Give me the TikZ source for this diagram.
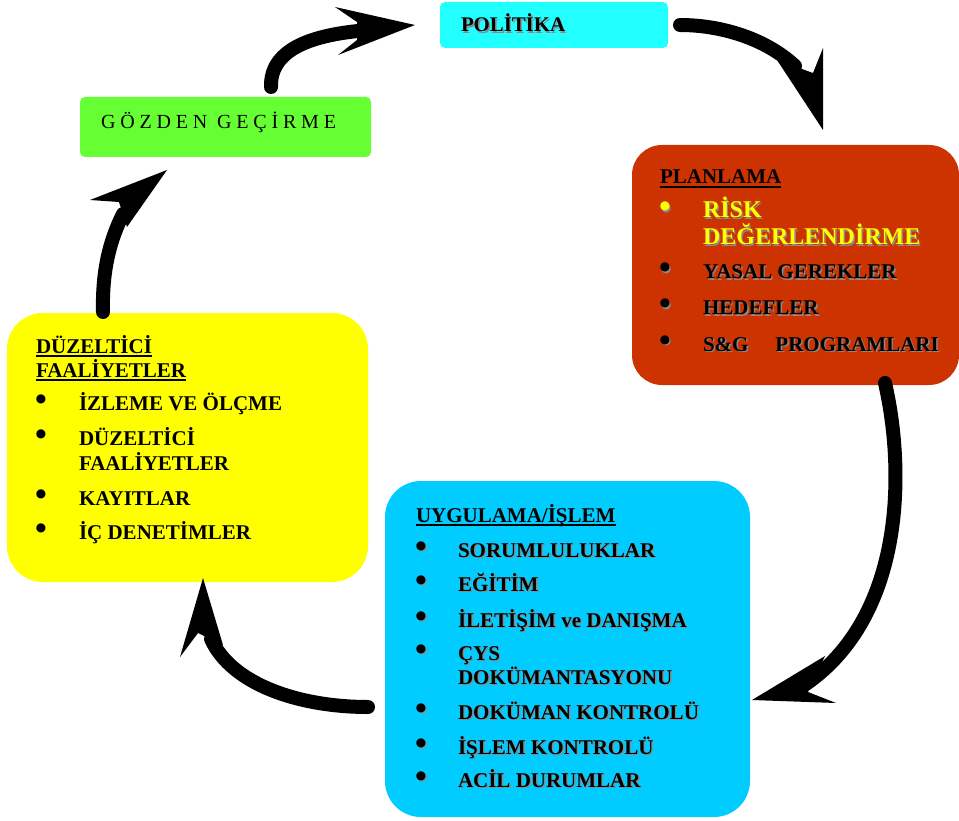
\documentclass[tikz,border=0pt]{standalone}
\usepackage{fontspec}
\usepackage{graphicx}
\setmainfont{Liberation Serif}
\newfontfamily\spacedfont{Liberation Serif}[LetterSpace=24]
\definecolor{planc}{HTML}{CC3300}
\definecolor{uygc}{HTML}{00CCFF}
\definecolor{duzc}{HTML}{FFFF00}
\definecolor{gozc}{HTML}{66FF33}
\definecolor{polc}{HTML}{22FFFF}
\definecolor{shadowgray}{HTML}{8A8A8A}
\newcommand\shd[1]{\leavevmode\rlap{\kern1.4pt\raisebox{-1.4pt}{\textcolor{shadowgray}{#1}}}#1}
\newcommand\bigbul{\scalebox{1.6}{•}}
\begin{document}
\begin{tikzpicture}[x=1pt,y=-1pt,
  box/.style={anchor=north west, inner sep=0pt, outer sep=0pt, draw=none},
  item/.style={anchor=base west, inner sep=0pt, outer sep=0pt, font=\fontsize{21}{25}\selectfont\bfseries},
  bigitem/.style={item, font=\fontsize{24}{28}\selectfont\bfseries},
  uline/.style={line width=1.8pt},
  shaft/.style={line width=14pt, line cap=round},
  head/.style={fill=black, draw=none}]
\useasboundingbox (0,0) rectangle (959,821);

% boxes
\node[box, fill=polc, rounded corners=5pt, minimum width=228pt, minimum height=46pt] (pol) at (440,2) {};
\node[box, fill=gozc, rounded corners=5pt, minimum width=291pt, minimum height=60pt] (goz) at (80,97) {};
\node[box, fill=planc, rounded corners=30pt, minimum width=327pt, minimum height=240pt] (plan) at (632,145) {};
\node[box, fill=uygc, rounded corners=36pt, minimum width=365pt, minimum height=336pt] (uyg) at (385,481) {};
\node[box, fill=duzc, rounded corners=36pt, minimum width=361pt, minimum height=269pt] (duz) at (7,313) {};

% POLITIKA
\node[item, font=\fontsize{20.8}{25}\selectfont\bfseries] (polt) at (461,32) {\shd{POLİTİKA}};
% GOZDEN GECIRME
\node[anchor=base west, inner sep=0pt, font=\fontsize{20}{24}\selectfont\spacedfont] (gozt) at (101,129) {GÖZDEN GEÇİRME};

% PLANLAMA
\node[item] (pt) at (660,184) {PLANLAMA};
\draw[uline] ([yshift=-3pt]pt.base west) -- ([yshift=-3pt]pt.base east);
\node[item, text=duzc] (pb1) at (659,218) {\shd{\bigbul}};
\node[bigitem, text=duzc] (p1a) at (703,218) {\shd{RİSK}};
\node[bigitem, text=duzc] (p1b) at (703,245) {\shd{DEĞERLENDİRME}};
\node[item] (pb2) at (659,279) {\shd{\bigbul}};
\node[item] (p2) at (703,279) {\shd{YASAL GEREKLER}};
\node[item] (pb3) at (659,315) {\shd{\bigbul}};
\node[item] (p3) at (703,315) {\shd{HEDEFLER}};
\node[item] (pb4) at (659,351) {\shd{\bigbul}};
\node[item] (p4) at (703,351) {\shd{S\&G\hspace{27pt}PROGRAMLARI}};

% UYGULAMA
\node[item] (ut) at (416,522) {UYGULAMA/İŞLEM};
\draw[uline] ([yshift=-3pt]ut.base west) -- ([yshift=-3pt]ut.base east);
\foreach \yy/\tt [count=\i] in {557/SORUMLULUKLAR, 591/EĞİTİM, 627/İLETİŞİM ve DANIŞMA, 660/ÇYS, 719/DOKÜMAN KONTROLÜ, 754/İŞLEM KONTROLÜ, 787/ACİL DURUMLAR}{
  \node[item] (ub\i) at (415,\yy) {\shd{\bigbul}};
  \node[item] (u\i) at (458,\yy) {\shd{\tt}};
}
\node[item] (u4b) at (458,684) {\shd{DOKÜMANTASYONU}};

% DUZELTICI
\node[item] (dt1) at (36,353) {DÜZELTİCİ};
\draw[uline] ([yshift=-3pt]dt1.base west) -- ([yshift=-3pt]dt1.base east);
\node[item] (dt2) at (36,377) {FAALİYETLER};
\draw[uline] ([yshift=-3pt]dt2.base west) -- ([yshift=-3pt]dt2.base east);
\foreach \yy/\tt [count=\i] in {410/İZLEME VE ÖLÇME, 445/DÜZELTİCİ, 505/KAYITLAR, 539/İÇ DENETİMLER}{
  \node[item] (db\i) at (35,\yy) {\bigbul};
  \node[item] (d\i) at (79,\yy) {\tt};
}
\node[item] (d2b) at (79,470) {FAALİYETLER};

% arrows
\coordinate (a1s) at (271,87);
\coordinate (a1e) at (358,31);
\draw[shaft] (a1s) .. controls (270,50) and (310,36) .. (a1e);
\fill[head] (335,7) -- (415,25) -- (338,55) -- (357,40) -- (357,22) -- cycle;

\coordinate (a2s) at (680,25);
\coordinate (a2e) at (795,66);
\draw[shaft] (a2s) .. controls (720,25) and (765,38) .. (a2e);
\fill[head] (777,60) -- (823,130) -- (823,48) -- (813,73) -- cycle;

\coordinate (a3s) at (885,383);
\coordinate (a3e) at (806,684);
\draw[shaft] (a3s) .. controls (905,470) and (905,615) .. (a3e);
\fill[head] (825,656) -- (752,700) -- (836,703) -- (808,692) -- cycle;

\coordinate (a4s) at (368,707);
\coordinate (a4e) at (211,639);
\draw[shaft] (a4s) .. controls (300,707) and (232,685) .. (a4e);
\fill[head] (203,578) -- (223,645) -- (198,633) -- (180,657) -- cycle;

\coordinate (a5s) at (103,312);
\coordinate (a5e) at (123,214);
\draw[shaft] (a5s) .. controls (102,270) and (110,240) .. (a5e);
\fill[head] (90,200) -- (167,170) -- (127,227) -- (119,202) -- cycle;
\end{tikzpicture}
\end{document}
